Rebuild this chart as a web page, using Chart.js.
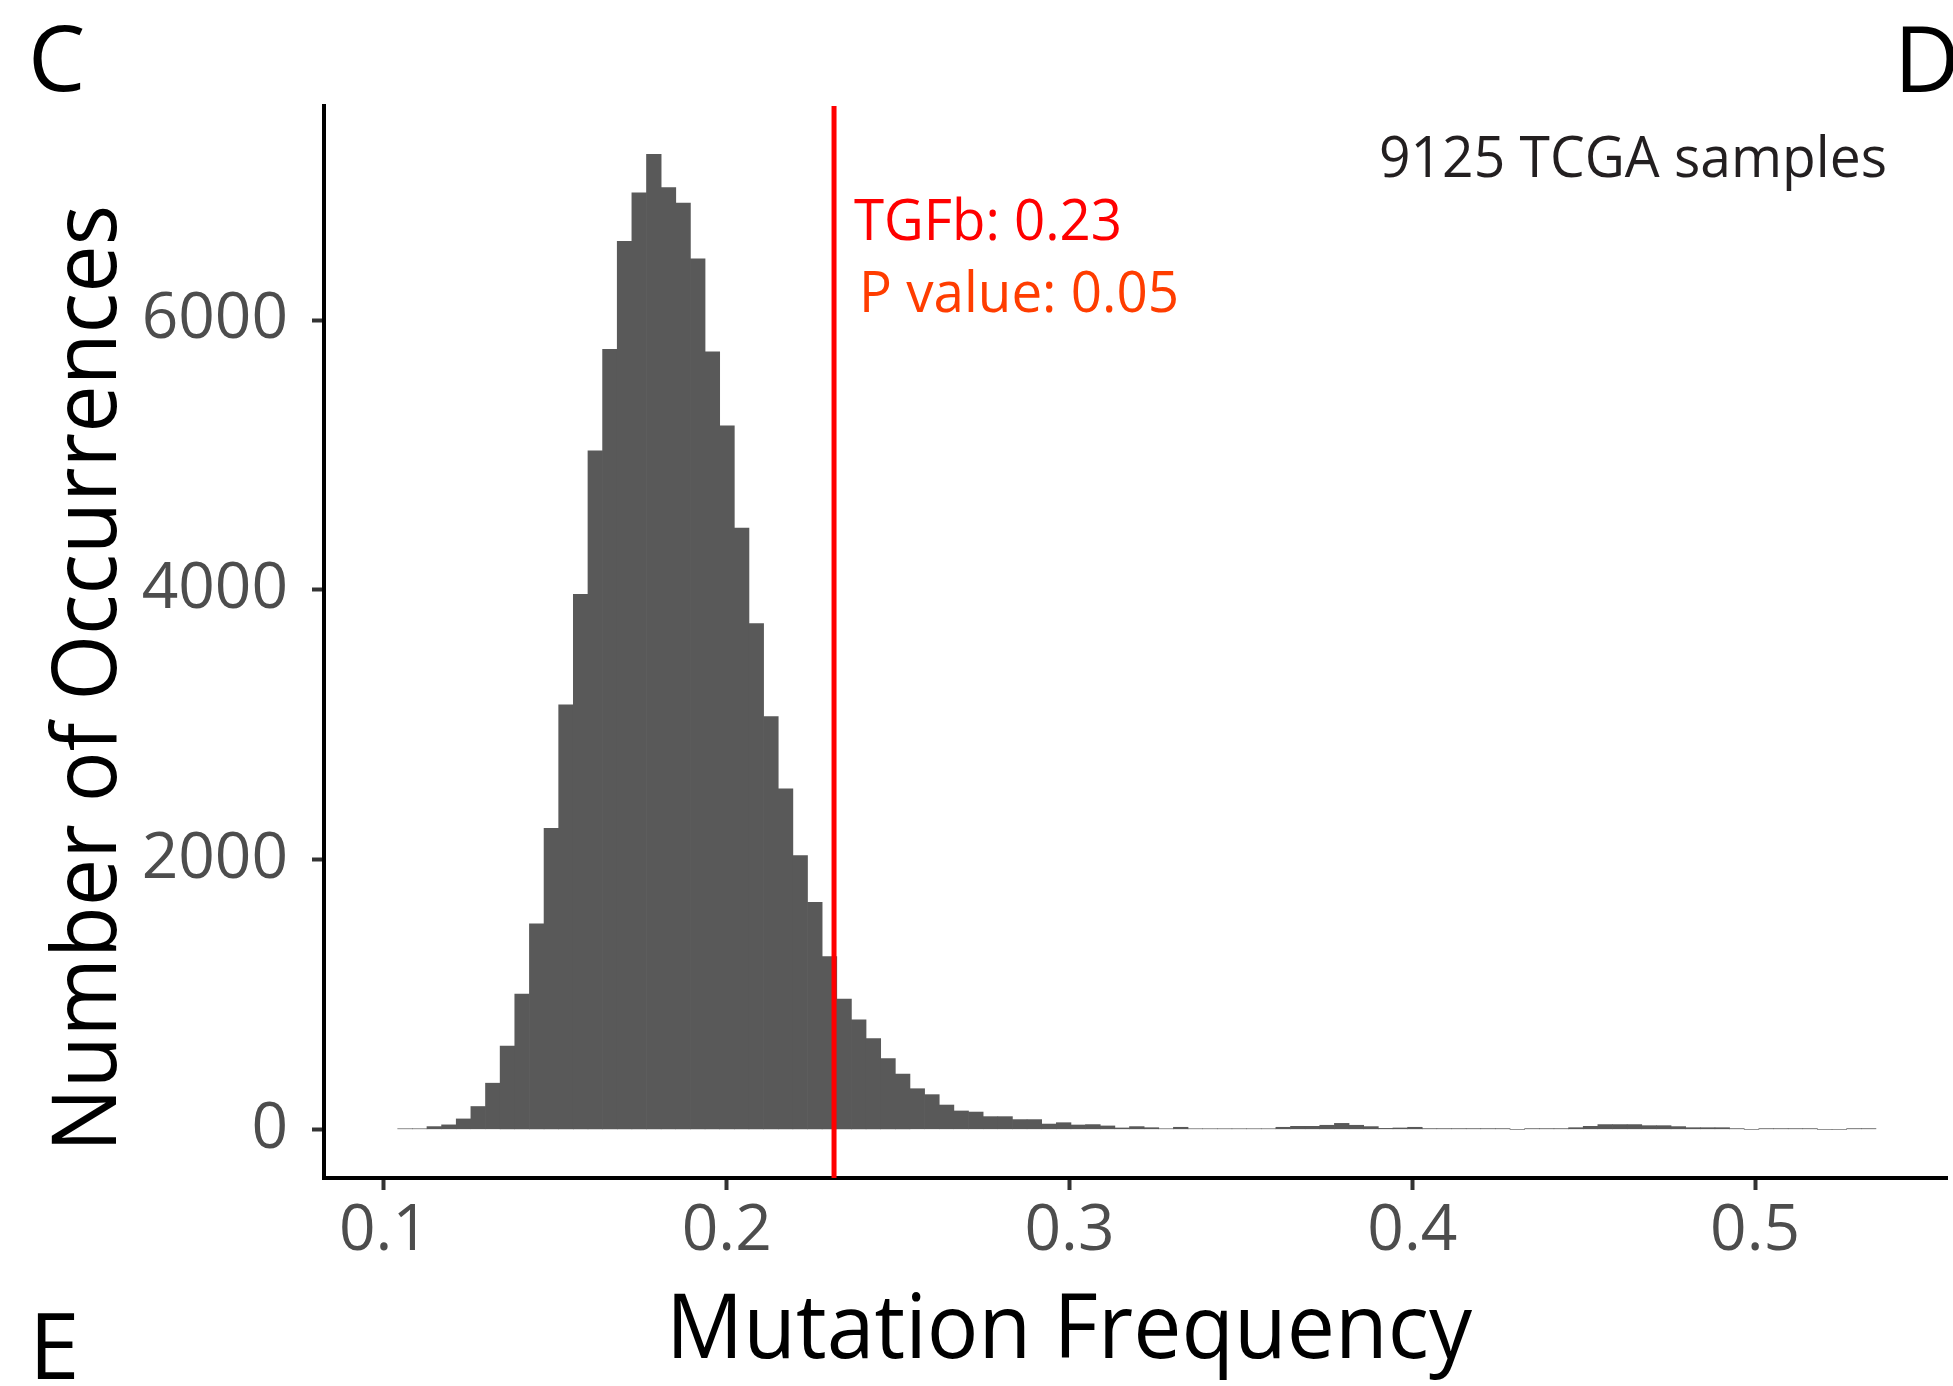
<!DOCTYPE html>
<html>
<head>
<meta charset="utf-8">
<script src="https://cdn.jsdelivr.net/npm/chart.js@4.4.1/dist/chart.umd.min.js"></script>
<style>
  html, body { margin: 0; padding: 0; background: #fff; }
  #wrap { width: 1953px; height: 1386px; position: relative; }
</style>
</head>
<body>
<div id="wrap"><canvas id="histChart"></canvas></div>
<script>
// Histogram of mutation frequency, 101 bins
const binStart = 0.104;
const binWidth = 0.00427;
const counts = [
  4, 4, 20, 33, 77, 169, 342, 617, 1002, 1523,
  2231, 3147, 3967, 5031, 5783, 6583, 6944, 7229, 6983, 6867,
  6453, 5764, 5215, 4458, 3750, 3060, 2525, 2029, 1682, 1280,
  965, 812, 672, 524, 410, 301, 257, 180, 136, 128,
  94, 94, 72, 72, 39, 49, 32, 35, 25, 10,
  20, 12, 4, 15, 4, 4, 4, 4, 4, 4,
  15, 22, 22, 30, 44, 30, 20, 7, 10, 15,
  5, 5, 5, 5, 5, 5, 0, 5, 5, 5,
  12, 22, 35, 35, 35, 27, 27, 20, 12, 12,
  12, 5, 0, 5, 5, 5, 5, 0, 0, 5,
  5
];
const xTicks = [0.1, 0.2, 0.3, 0.4, 0.5];
const yTicks = [0, 2000, 4000, 6000];
const xRange = [0.0825, 0.556];
const yRange = [-361, 7587];
const tgfbValue = 0.2313;

// Textos
const yTitle = 'Number of Occurrences';
const xTitle = 'Mutation Frequency';
const tgfbLabel = 'TGFb: 0.23';
const pLabel = 'P value: 0.05';
const samplesLabel = '9125 TCGA samples';
const panelLabels = ['C', 'D', 'E'];

const fontFamily = "'Open Sans', 'Noto Sans', sans-serif";

// dibuja texto ajustado a un ancho dado
function fitText(ctx, text, x, y, width, size, color, rot) {
  ctx.save();
  ctx.font = size + 'px ' + fontFamily;
  ctx.fillStyle = color;
  ctx.textAlign = 'left';
  ctx.textBaseline = 'alphabetic';
  ctx.translate(x, y);
  if (rot) ctx.rotate(rot);
  if (width) {
    const w = ctx.measureText(text).width;
    ctx.scale(width / w, 1);
  }
  ctx.fillText(text, 0, 0);
  ctx.restore();
}

const textPlugin = {
  id: 'figText',
  afterDraw(chart) {
    const c = chart.ctx;
    const xl = chart.scales.x.getPixelForValue(tgfbValue);
    fitText(c, tgfbLabel, xl + 20, 240, 268, 56, '#ff0000');
    fitText(c, pLabel, xl + 25, 312, 320, 56, '#ff3d00');
    fitText(c, samplesLabel, 1379, 177, 508, 56, '#231f20');
    fitText(c, yTitle, 116, 1152, 947, 90, '#000000', -Math.PI / 2);
    fitText(c, xTitle, 666, 1358, 806, 90, '#000000');
    fitText(c, panelLabels[0], 28, 91, null, 91, '#000000');
    fitText(c, panelLabels[1], 1894, 92, null, 91, '#000000');
    fitText(c, panelLabels[2], 29, 1379, null, 91, '#000000');
  }
};

const tickFont = { family: fontFamily, size: 64 };

new Chart(document.getElementById('histChart'), {
  type: 'bar',
  data: {
    datasets: [
      {
        type: 'line',
        data: [{ x: tgfbValue, y: yRange[0] }, { x: tgfbValue, y: yRange[1] }],
        borderColor: '#ff0000',
        borderWidth: 5,
        pointRadius: 0,
        order: 0
      },
      {
        type: 'bar',
        data: counts.map((c, i) => ({ x: binStart + (i + 0.5) * binWidth, y: c })),
        backgroundColor: '#595959',
        borderWidth: 0,
        barPercentage: 1,
        categoryPercentage: 1,
        order: 1
      }
    ]
  },
  options: {
    responsive: true,
    maintainAspectRatio: false,
    animation: false,
    layout: { padding: { top: 106, right: 6, bottom: 0, left: 0 } },
    plugins: { legend: { display: false }, tooltip: { enabled: false } },
    scales: {
      x: {
        type: 'linear',
        min: xRange[0],
        max: xRange[1],
        offset: false,
        afterBuildTicks: s => { s.ticks = xTicks.map(v => ({ value: v })); },
        afterFit: s => { s.height = 208; },
        grid: { offset: false, drawOnChartArea: false, drawTicks: true, tickLength: 12, tickWidth: 4, tickColor: '#333333' },
        border: { display: true, color: '#000000', width: 4 },
        ticks: { font: tickFont, color: '#4d4d4d', padding: 3, maxRotation: 0, autoSkip: false, callback: v => v.toFixed(1) }
      },
      y: {
        min: yRange[0],
        max: yRange[1],
        afterBuildTicks: s => { s.ticks = yTicks.map(v => ({ value: v })); },
        afterFit: s => { s.width = 324; },
        grid: { drawOnChartArea: false, drawTicks: true, tickLength: 12, tickWidth: 4, tickColor: '#333333' },
        border: { display: true, color: '#000000', width: 4 },
        ticks: { font: tickFont, color: '#4d4d4d', padding: 24, callback: v => String(v) }
      }
    }
  },
  plugins: [textPlugin]
});
</script>
</body>
</html>
